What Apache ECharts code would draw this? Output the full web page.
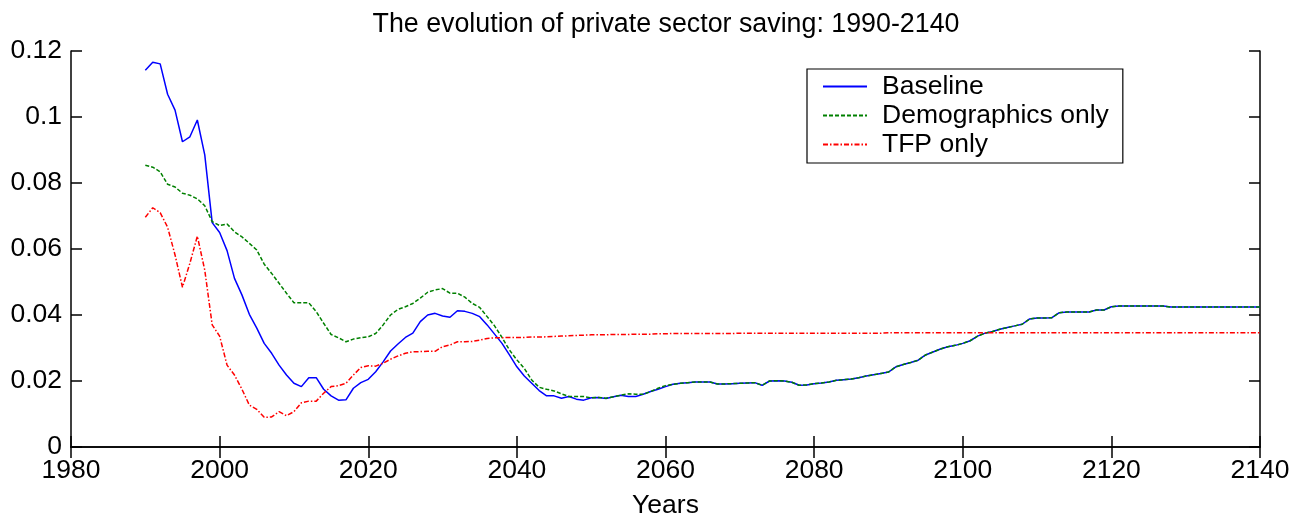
<!DOCTYPE html>
<html>
<head>
<meta charset="utf-8">
<script src="https://cdn.jsdelivr.net/npm/echarts@6/dist/echarts.min.js"></script>
<style>
html,body{margin:0;padding:0;background:#fff;}
#chart{width:1305px;height:517px;}
</style>
</head>
<body>
<div id="chart"></div>
<script>
const years = [1990,1991,1992,1993,1994,1995,1996,1997,1998,1999,
2000,2001,2002,2003,2004,2005,2006,2007,2008,2009,
2010,2011,2012,2013,2014,2015,2016,2017,2018,2019,
2020,2021,2022,2023,2024,2025,2026,2027,2028,2029,
2030,2031,2032,2033,2034,2035,2036,2037,2038,2039,
2040,2041,2042,2043,2044,2045,2046,2047,2048,2049,
2050,2051,2052,2053,2054,2055,2056,2057,2058,2059,
2060,2061,2062,2063,2064,2065,2066,2067,2068,2069,
2070,2071,2072,2073,2074,2075,2076,2077,2078,2079,
2080,2081,2082,2083,2084,2085,2086,2087,2088,2089,
2090,2091,2092,2093,2094,2095,2096,2097,2098,2099,
2100,2101,2102,2103,2104,2105,2106,2107,2108,2109,
2110,2111,2112,2113,2114,2115,2116,2117,2118,2119,
2120,2121,2122,2123,2124,2125,2126,2127,2128,2129,
2130,2131,2132,2133,2134,2135,2136,2137,2138,2139,2140];

const baseline = [.1142,.1166,.1161,.1069,.1021,.0925,.0940,.0991,.0885,.0680,
.0650,.0595,.0511,.0461,.0402,.0360,.0314,.0284,.0248,.0218,
.0193,.0183,.0210,.0210,.0175,.0155,.0142,.0143,.0178,.0195,
.0205,.0228,.0258,.0291,.0312,.0332,.0345,.0380,.0400,.0405,
.0397,.0393,.0413,.0411,.0405,.0395,.0370,.0342,.0314,.0279,
.0243,.0215,.0193,.0171,.0155,.0155,.0148,.0153,.0145,.0142,
.0149,.0150,.0147,.0152,.0157,.0153,.0153,.0160,.0168,.0175,
.0183,.0190,.0193,.0195,.0197,.0197,.0197,.0191,.0191,.0192,
.0193,.0194,.0195,.0187,.0200,.0201,.0200,.0196,.0187,.0188,
.0192,.0194,.0197,.0202,.0204,.0206,.0210,.0215,.0219,.0223,
.0227,.0243,.0250,.0256,.0263,.0279,.0288,.0297,.0304,.0308,
.0314,.0322,.0336,.0345,.0350,.0357,.0362,.0367,.0372,.0388,
.0391,.0391,.0392,.0407,.0409,.0409,.0409,.0409,.0415,.0415,
.0425,.0427,.0427,.0427,.0427,.0427,.0427,.0427,.0424,.0424,
.0424,.0424,.0424,.0424,.0424,.0424,.0424,.0424,.0424,.0424,.0424];

const demographics = [.0854,.0848,.0834,.0796,.0788,.0769,.0763,.0752,.0731,.0683,
.0671,.0676,.0652,.0637,.0617,.0597,.0554,.0526,.0496,.0466,
.0437,.0437,.0437,.0410,.0375,.0341,.0331,.0319,.0327,.0331,
.0334,.0344,.0370,.0400,.0417,.0425,.0435,.0451,.0469,.0476,
.0480,.0466,.0466,.0454,.0435,.0423,.0395,.0367,.0332,.0294,
.0264,.0238,.0203,.0181,.0175,.0170,.0161,.0153,.0153,.0153,
.0149,.0150,.0148,.0152,.0157,.0161,.0160,.0160,.0168,.0178,
.0186,.0190,.0193,.0195,.0197,.0197,.0197,.0191,.0191,.0192,
.0193,.0194,.0195,.0187,.0200,.0201,.0200,.0196,.0187,.0188,
.0192,.0194,.0197,.0202,.0204,.0206,.0210,.0215,.0219,.0223,
.0227,.0243,.0250,.0256,.0263,.0279,.0288,.0297,.0304,.0308,
.0314,.0322,.0336,.0345,.0350,.0357,.0362,.0367,.0372,.0388,
.0391,.0391,.0392,.0407,.0409,.0409,.0409,.0409,.0415,.0415,
.0425,.0427,.0427,.0427,.0427,.0427,.0427,.0427,.0424,.0424,
.0424,.0424,.0424,.0424,.0424,.0424,.0424,.0424,.0424,.0424,.0424];

const tfpOnly = [.0696,.0725,.0710,.0666,.0582,.0484,.0557,.0639,.0536,.0370,
.0336,.0248,.0218,.0175,.0127,.0114,.0090,.0091,.0107,.0095,
.0107,.0134,.0139,.0139,.0163,.0183,.0186,.0193,.0218,.0241,
.0246,.0245,.0254,.0266,.0276,.0284,.0289,.0289,.0290,.0290,
.0304,.0309,.0319,.0319,.0320,.0324,.0329,.0331,.0331,.0332,
.0332,.0332,.0333,.0333,.0334,.0335,.0336,.0337,.0338,.0339,
.0340,.0340,.0340,.0341,.0341,.0341,.0342,.0342,.0342,.0343,
.0343,.0344,.0344,.0344,.0344,.0344,.0344,.0344,.0344,.0344,
.0345,.0345,.0345,.0345,.0345,.0345,.0345,.0345,.0345,.0345,
.0345,.0345,.0345,.0345,.0345,.0345,.0345,.0345,.0345,.0345,
.0346,.0346,.0346,.0346,.0346,.0346,.0346,.0346,.0346,.0346,
.0346,.0346,.0346,.0346,.0346,.0346,.0346,.0346,.0346,.0346,
.0346,.0346,.0346,.0346,.0346,.0346,.0346,.0346,.0346,.0346,
.0346,.0346,.0346,.0346,.0346,.0346,.0346,.0346,.0346,.0346,
.0346,.0346,.0346,.0346,.0346,.0346,.0346,.0346,.0346,.0346,.0346];

const seriesNames = ['Baseline','Demographics only','TFP only'];
const xTicks = {min:1980, max:2140, interval:20};
const yTicks = {min:0, max:0.12, interval:0.02};
const titleText = 'The evolution of private sector saving: 1990-2140';
const xName = 'Years';

const FONT = '"Liberation Sans", Arial, Helvetica, sans-serif';
const FS = 26.5;
const pairs = vals => years.map((y,i)=>[y, vals[i]]);
const axisLineStyle = {color:'#000', width:1.5};

const chart = echarts.init(document.getElementById('chart'), null, {renderer:'canvas'});
const option = {
  animation:false,
  backgroundColor:'#fff',
  title:{
    text:titleText, left:661, top:6, textAlign:'center',
    textStyle:{fontFamily:FONT, fontSize:26.8, fontWeight:'normal', color:'#000'}
  },
  grid:{left:71, right:45, top:51, bottom:70, containLabel:false, outerBoundsMode:'none'},
  legend:{
    orient:'vertical', left:807, top:69,
    data:seriesNames,
    itemWidth:44, itemHeight:14, itemGap:0,
    padding:[3,14,4,15],
    borderColor:'#000', borderWidth:1.2, backgroundColor:'#fff',
    itemStyle:{opacity:0},
    textStyle:{fontFamily:FONT, fontSize:FS, color:'#000', lineHeight:29, padding:[0,0,0,10]}
  },
  xAxis:[
    {type:'value', min:xTicks.min, max:xTicks.max, interval:xTicks.interval,
     name:xName, nameLocation:'middle', nameGap:45,
     nameTextStyle:{fontFamily:FONT, fontSize:FS, color:'#000'},
     axisLine:{lineStyle:axisLineStyle},
     axisTick:{inside:true, length:11, lineStyle:axisLineStyle},
     axisLabel:{fontFamily:FONT, fontSize:FS, color:'#000', margin:10, formatter:v=>String(v)},
     splitLine:{show:false}},
    {type:'value', position:'top', min:xTicks.min, max:xTicks.max, interval:xTicks.interval,
     axisLine:{lineStyle:axisLineStyle},
     axisTick:{inside:true, length:11, lineStyle:axisLineStyle},
     axisLabel:{show:false}, splitLine:{show:false}}
  ],
  yAxis:[
    {type:'value', min:yTicks.min, max:yTicks.max, interval:yTicks.interval,
     axisLine:{show:true, lineStyle:axisLineStyle},
     axisTick:{show:true, inside:true, length:11, lineStyle:axisLineStyle},
     axisLabel:{fontFamily:FONT, fontSize:FS, color:'#000', margin:9,
       formatter:v=>String(parseFloat(v.toFixed(2)))},
     splitLine:{show:false}},
    {type:'value', position:'right', min:yTicks.min, max:yTicks.max, interval:yTicks.interval,
     axisLine:{show:true, lineStyle:axisLineStyle},
     axisTick:{show:true, inside:true, length:11, lineStyle:axisLineStyle},
     axisLabel:{show:false}, splitLine:{show:false}}
  ],
  series:[
    {name:seriesNames[0], type:'line', data:pairs(baseline), symbol:'none',
     lineStyle:{color:'#0000ff', width:1.5, type:'solid'}, itemStyle:{color:'#0000ff'}},
    {name:seriesNames[1], type:'line', data:pairs(demographics), symbol:'none',
     lineStyle:{color:'#008000', width:1.5, type:[4,2]}, itemStyle:{color:'#008000'}},
    {name:seriesNames[2], type:'line', data:pairs(tfpOnly), symbol:'none',
     lineStyle:{color:'#ff0000', width:1.5, type:[5,2,1.5,2]}, itemStyle:{color:'#ff0000'}}
  ]
};
chart.setOption(option);
</script>
</body>
</html>
